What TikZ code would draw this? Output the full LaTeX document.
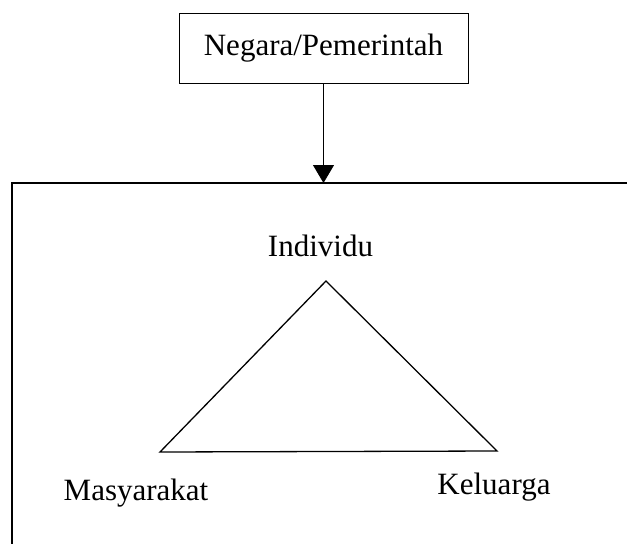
\documentclass[tikz,border=0pt]{standalone}
\usepackage{fontspec}
\setmainfont{Liberation Serif}
\usetikzlibrary{arrows.meta,positioning}

\begin{document}
\begin{tikzpicture}[x=1pt,y=-1pt,
  lbl/.style={font=\fontsize{31}{36}\selectfont, inner sep=0pt, anchor=base},
  frm/.style={line width=1.3pt}]
\useasboundingbox (0,0) rectangle (627,544);
% Negara box on top
\node[draw, line width=0.9pt, minimum width=289pt, minimum height=70pt, inner sep=0pt,
      font=\fontsize{31}{36}\selectfont] (negara) at (323.5,48) {Negara/Pemerintah};
% open frame below
\coordinate (frTL) at (12,183);
\coordinate (frTR) at (627,183);
\coordinate (frBL) at (12,544);
\draw[frm] (frTR) -- (frTL) -- (frBL);
\draw[line width=0.9pt, -{Triangle[width=21pt,length=18pt]}] (negara.south) -- (negara.south |- frTL);
% triangle of the three parts
\coordinate (puncak) at (326,281);
\coordinate (kiri) at (160,452);
\coordinate (kanan) at (497,451);
\draw[frm] (puncak) -- (kiri) -- (kanan) -- cycle;
\node[lbl] (individu) at (320.5,256) {Individu};
\node[lbl] (masyarakat) at (136,500) {Masyarakat};
\node[lbl] (keluarga) at (494,494) {Keluarga};
\end{tikzpicture}
\end{document}
